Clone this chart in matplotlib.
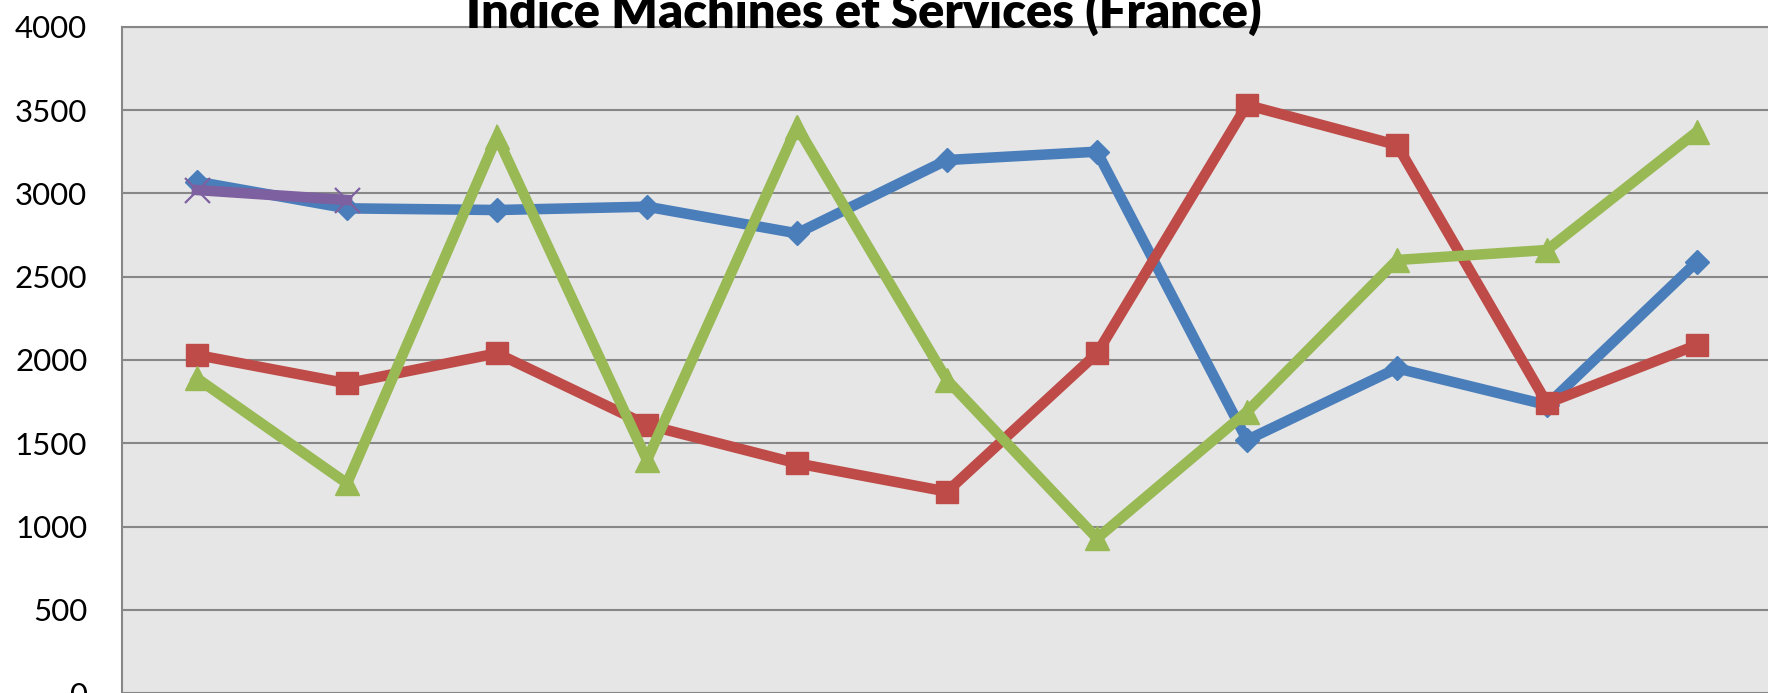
import matplotlib
matplotlib.use("Agg")
import matplotlib.pyplot as plt

# ---- data ----
categories = list(range(11))
series_blue = [3070, 2910, 2900, 2920, 2760, 3200, 3250, 1520, 1950, 1730, 2590]
series_red = [2030, 1860, 2040, 1610, 1380, 1210, 2040, 3530, 3290, 1740, 2090]
series_green = [1890, 1260, 3340, 1400, 3400, 1880, 930, 1690, 2600, 2660, 3370]
series_purple = [3020, 2960]
y_ticks = [0, 500, 1000, 1500, 2000, 2500, 3000, 3500, 4000]
title = "Indice Machines et Services (France)"

W, H, DPI = 1768, 693, 100
fig = plt.figure(figsize=(W / DPI, H / DPI), dpi=DPI, facecolor="white")

left_px, right_px = 122, 1772
top_px, bottom_px = 26.7, 693.3
ax = fig.add_axes([left_px / W, (H - bottom_px) / H,
                   (right_px - left_px) / W, (bottom_px - top_px) / H])
ax.set_facecolor("#e6e6e6")

grid_c = "#878787"
lw = 7.6

ax.plot(categories, series_blue, color="#4a7ebb", lw=lw, marker="D",
        markersize=12.5, zorder=3, solid_joinstyle="miter")
ax.plot(categories, series_red, color="#be4b48", lw=lw, marker="s",
        markersize=16.5, zorder=4, solid_joinstyle="miter")
ax.plot(categories, series_green, color="#98b954", lw=lw, marker="^",
        markersize=17.5, zorder=5, solid_joinstyle="miter")
ax.plot(categories[:len(series_purple)], series_purple, color="#7d60a0", lw=lw,
        marker="x", markersize=18, markeredgewidth=1.6, zorder=6)

ax.set_xlim(-0.5, len(categories) - 0.5)
ax.set_ylim(0, 4000)
ax.set_yticks(y_ticks)
ax.set_yticklabels([str(v) for v in y_ticks], fontfamily="Lato", fontsize=22.5,
                   color="black")
ax.set_xticks([])
ax.tick_params(axis="y", length=0, pad=25)
ax.yaxis.grid(True, color=grid_c, lw=1.5, zorder=1)
ax.set_axisbelow(True)
for s in ["right", "bottom"]:
    ax.spines[s].set_visible(False)
ax.spines["left"].set_color(grid_c)
ax.spines["left"].set_linewidth(1.5)
ax.spines["top"].set_color(grid_c)
ax.spines["top"].set_linewidth(1.5)

# title: calibrate size so its width matches the reference (~795 px)
t = fig.text(863.5 / W, 1 - 28 / H, title, ha="center", va="baseline",
             fontfamily="Lato", fontweight="heavy", fontsize=30, color="black",
             zorder=10)
fig.canvas.draw()
r = fig.canvas.get_renderer()
w = t.get_window_extent(renderer=r).width
t.set_fontsize(30 * 795 / w)

fig.savefig("out.png", dpi=DPI, facecolor="white")
